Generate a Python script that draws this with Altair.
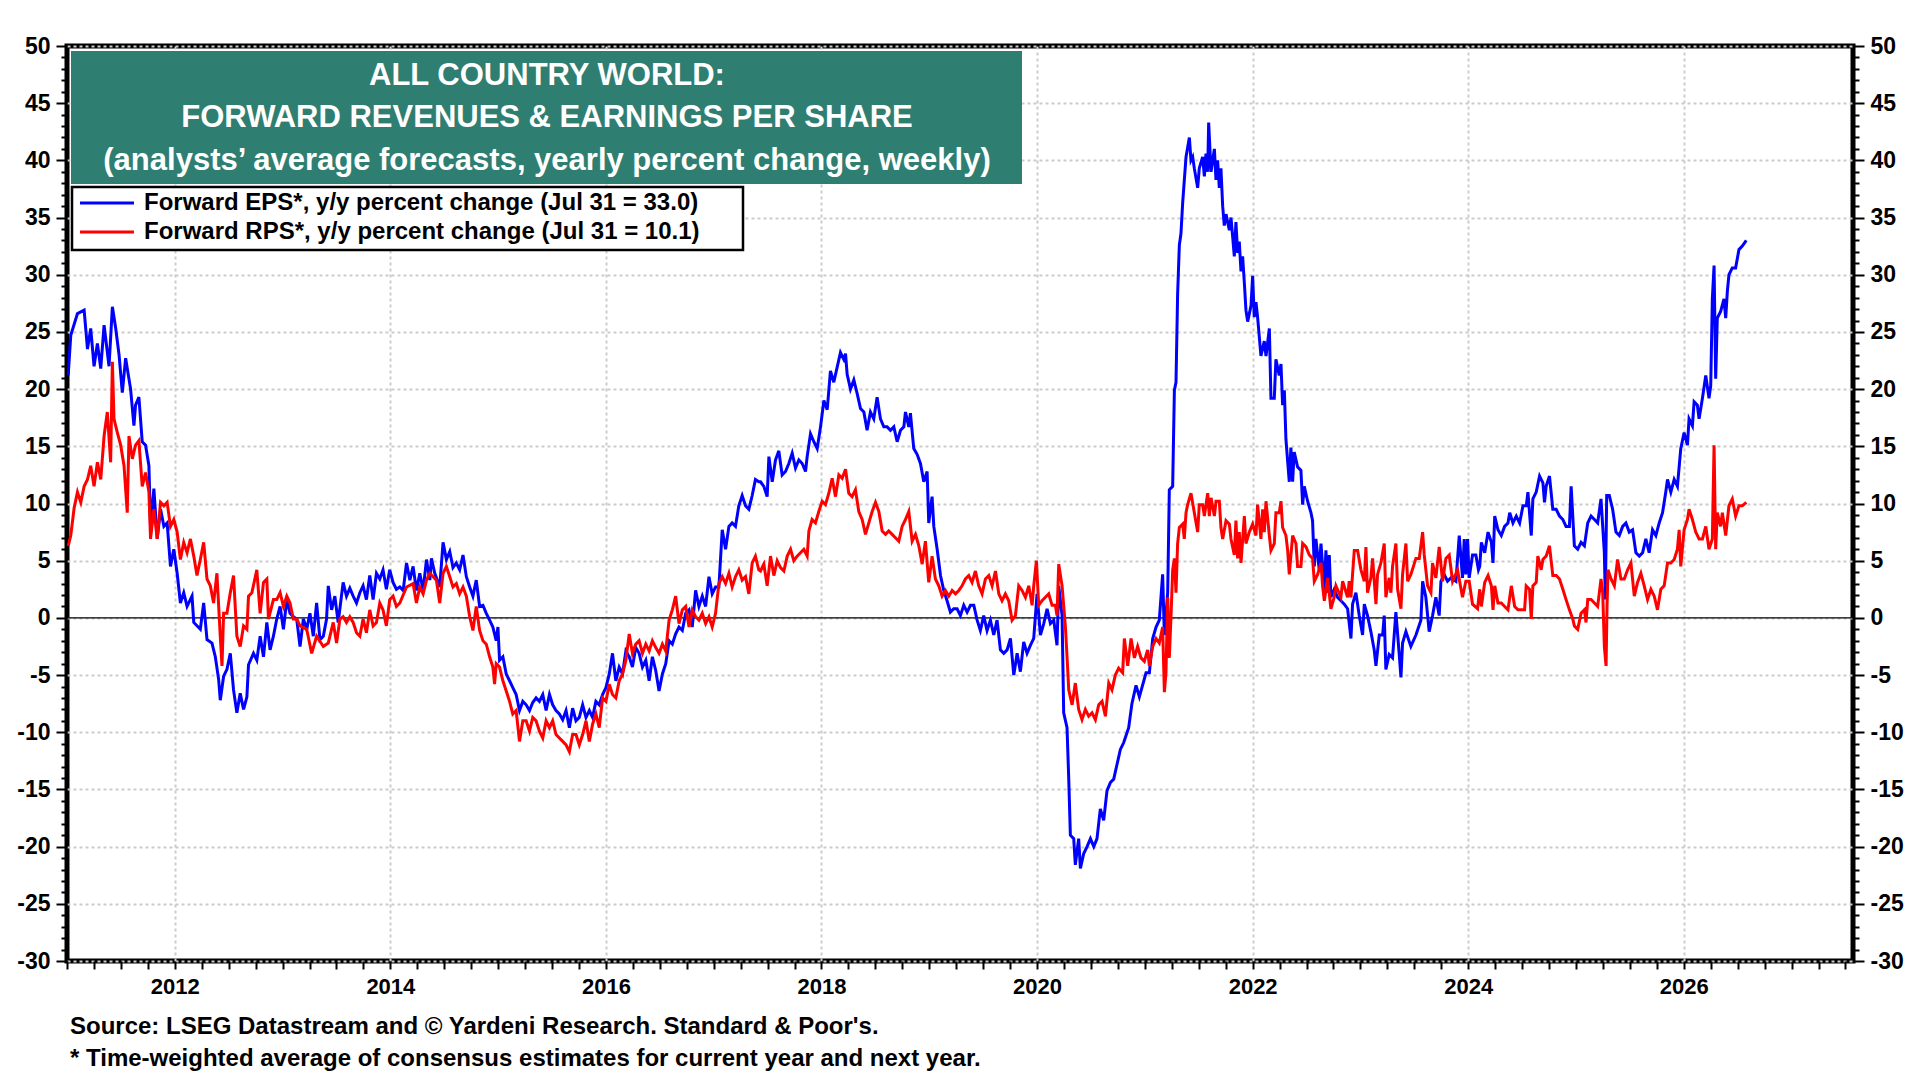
import altair as alt
import pandas as pd

# ---------------- text ----------------
TITLE_LINES = [
    "ALL COUNTRY WORLD:",
    "FORWARD REVENUES & EARNINGS PER SHARE",
    "(analysts\u2019 average forecasts, yearly percent change, weekly)",
]
LEGEND_EPS = "Forward EPS*, y/y percent change (Jul 31 = 33.0)"
LEGEND_RPS = "Forward RPS*, y/y percent change (Jul 31 = 10.1)"
FOOT_1 = "Source: LSEG Datastream and \u00a9 Yardeni Research. Standard & Poor's."
FOOT_2 = "* Time-weighted average of consensus estimates for current year and next year."

# ---------------- data (decimal year, % y/y) ----------------
EPS_2011_2014 = [
    (2011.011, 21.2), (2011.035, 24.7), (2011.097, 26.6), (2011.159, 26.9), (2011.190, 23.5),
    (2011.220, 25.3), (2011.251, 22.0), (2011.282, 24.0), (2011.313, 21.8), (2011.344, 25.6),
    (2011.390, 22.0), (2011.421, 27.2), (2011.452, 25.3), (2011.483, 23.0), (2011.513, 19.7),
    (2011.544, 22.7), (2011.590, 20.0), (2011.621, 16.8), (2011.636, 18.6), (2011.667, 19.3),
    (2011.698, 15.4), (2011.729, 15.1), (2011.760, 13.3), (2011.775, 8.0), (2011.806, 11.3),
    (2011.837, 6.9), (2011.868, 9.5), (2011.899, 8.0), (2011.929, 8.3), (2011.960, 4.5),
    (2011.991, 6.0), (2012.022, 3.9), (2012.052, 1.3), (2012.083, 2.2), (2012.114, 1.0),
    (2012.160, 1.9), (2012.176, -0.4), (2012.237, -1.0), (2012.268, 1.3), (2012.299, -1.9),
    (2012.345, -2.2), (2012.376, -3.4), (2012.407, -5.4), (2012.422, -7.2), (2012.453, -5.1),
    (2012.484, -4.5), (2012.515, -3.1), (2012.545, -6.3), (2012.576, -8.3), (2012.607, -6.6),
    (2012.638, -8.0), (2012.669, -6.9), (2012.684, -4.1), (2012.730, -3.1), (2012.761, -3.7),
    (2012.792, -1.6), (2012.823, -3.4), (2012.854, -0.4), (2012.884, -2.8), (2012.915, -1.6),
    (2012.946, -0.1), (2012.977, 1.0), (2013.008, -1.0), (2013.039, 1.6), (2013.069, 0.4),
    (2013.100, 0.1), (2013.131, -0.1), (2013.162, -2.5), (2013.193, -0.1), (2013.224, -1.0),
    (2013.254, 0.4), (2013.285, -1.6), (2013.316, 1.3), (2013.347, -1.9), (2013.378, -1.6),
    (2013.408, -0.1), (2013.424, 2.8), (2013.455, 0.7), (2013.485, 1.9), (2013.516, -0.4),
    (2013.562, 3.1), (2013.593, 1.9), (2013.624, 2.6), (2013.655, 1.9), (2013.686, 1.3),
    (2013.717, 2.2), (2013.747, 2.8), (2013.778, 1.6), (2013.809, 3.7), (2013.840, 1.6),
    (2013.871, 3.9), (2013.902, 3.4), (2013.932, 4.2), (2013.963, 2.5), (2013.994, 4.2),
    (2014.025, 3.1), (2014.056, 2.5),
]
EPS_2014_2017 = [
    (2014.088, 2.7), (2014.119, 2.4), (2014.150, 4.8), (2014.181, 3.3), (2014.211, 4.5),
    (2014.242, 2.4), (2014.273, 3.9), (2014.304, 2.4), (2014.335, 5.1), (2014.366, 3.3),
    (2014.381, 5.2), (2014.412, 3.9), (2014.458, 2.7), (2014.489, 6.6), (2014.520, 5.1),
    (2014.551, 5.8), (2014.581, 4.4), (2014.612, 4.8), (2014.643, 4.2), (2014.674, 5.5),
    (2014.705, 3.6), (2014.736, 2.7), (2014.766, 1.9), (2014.797, 3.3), (2014.828, 1.0),
    (2014.859, 1.1), (2014.890, 0.4), (2014.921, -0.2), (2014.951, -0.8), (2014.982, -2.0),
    (2014.998, -0.8), (2015.013, -3.7), (2015.044, -3.4), (2015.075, -4.9), (2015.106, -5.5),
    (2015.136, -6.1), (2015.167, -6.7), (2015.198, -8.1), (2015.229, -7.3), (2015.260, -7.6),
    (2015.291, -8.1), (2015.321, -7.4), (2015.352, -7.0), (2015.383, -7.3), (2015.414, -6.7),
    (2015.445, -8.1), (2015.476, -6.7), (2015.506, -7.6), (2015.537, -8.1), (2015.568, -8.4),
    (2015.599, -8.9), (2015.630, -8.1), (2015.661, -9.6), (2015.691, -7.9), (2015.722, -9.0),
    (2015.753, -8.7), (2015.784, -7.6), (2015.815, -8.7), (2015.846, -8.1), (2015.876, -8.7),
    (2015.907, -7.3), (2015.938, -7.6), (2015.969, -6.7), (2016.000, -6.1), (2016.031, -4.9),
    (2016.061, -3.1), (2016.092, -5.5), (2016.123, -4.3), (2016.154, -4.9), (2016.185, -2.9),
    (2016.216, -3.4), (2016.246, -4.3), (2016.277, -2.6), (2016.308, -3.1), (2016.339, -4.3),
    (2016.370, -3.7), (2016.401, -5.5), (2016.431, -3.4), (2016.462, -4.6), (2016.493, -6.4),
    (2016.524, -4.9), (2016.555, -4.0), (2016.586, -2.0), (2016.616, -2.3), (2016.647, -1.4),
    (2016.678, -0.8), (2016.709, -1.1), (2016.740, 0.4), (2016.771, 0.7), (2016.801, -0.8),
    (2016.832, 2.4), (2016.863, 1.0), (2016.894, 1.9), (2016.925, 1.0), (2016.956, 3.6),
    (2016.986, 2.1), (2017.017, 2.7), (2017.048, 2.7), (2017.079, 7.7), (2017.110, 6.0),
    (2017.141, 8.0), (2017.171, 8.3), (2017.202, 8.0), (2017.233, 9.8), (2017.264, 10.7),
    (2017.295, 9.8), (2017.326, 9.5), (2017.357, 10.7), (2017.387, 12.1), (2017.418, 11.9),
]
EPS_2017_2020 = [
    (2017.434, 11.9), (2017.465, 11.5), (2017.496, 10.6), (2017.512, 14.1), (2017.543, 11.9),
    (2017.573, 13.8), (2017.604, 14.6), (2017.635, 12.5), (2017.666, 12.8), (2017.697, 13.5),
    (2017.728, 14.4), (2017.759, 13.1), (2017.790, 13.8), (2017.821, 13.5), (2017.852, 12.8),
    (2017.867, 14.1), (2017.898, 16.1), (2017.929, 15.4), (2017.960, 14.8), (2017.991, 16.7),
    (2018.022, 19.0), (2018.053, 18.2), (2018.083, 21.6), (2018.114, 20.6), (2018.145, 21.9),
    (2018.176, 23.2), (2018.207, 22.6), (2018.223, 23.1), (2018.238, 21.3), (2018.269, 20.0),
    (2018.300, 20.8), (2018.331, 19.6), (2018.362, 18.3), (2018.393, 18.0), (2018.423, 16.4),
    (2018.454, 18.0), (2018.485, 17.4), (2018.516, 19.3), (2018.547, 17.4), (2018.578, 16.7),
    (2018.609, 16.7), (2018.640, 16.4), (2018.671, 16.7), (2018.702, 15.4), (2018.733, 16.4),
    (2018.764, 16.7), (2018.779, 18.0), (2018.810, 16.7), (2018.825, 17.9), (2018.856, 14.8),
    (2018.887, 14.3), (2018.918, 13.5), (2018.949, 11.9), (2018.980, 12.8), (2018.995, 8.3),
    (2019.026, 10.6), (2019.042, 8.0), (2019.073, 6.0), (2019.104, 3.7), (2019.134, 2.4),
    (2019.165, 1.5), (2019.196, 0.5), (2019.227, 0.8), (2019.258, 0.8), (2019.289, 0.2),
    (2019.320, 1.1), (2019.351, 0.5), (2019.382, 1.1), (2019.413, 1.1), (2019.444, -0.2),
    (2019.474, -1.1), (2019.505, 0.2), (2019.536, -1.1), (2019.567, -0.2), (2019.598, -1.5),
    (2019.629, -0.2), (2019.660, -2.8), (2019.691, -3.1), (2019.722, -2.8), (2019.753, -1.8),
    (2019.784, -5.0), (2019.815, -3.1), (2019.845, -4.7), (2019.876, -2.1), (2019.907, -3.1),
    (2019.938, -2.4), (2019.969, -1.8), (2020.000, 2.1), (2020.031, -1.5), (2020.062, -0.5),
    (2020.093, 0.8), (2020.124, -0.5), (2020.155, -0.2), (2020.185, -2.4), (2020.201, 2.8),
    (2020.232, 0.2), (2020.247, -8.3), (2020.278, -9.6), (2020.294, -14.1), (2020.309, -19.0),
    (2020.340, -19.3), (2020.355, -21.6), (2020.386, -19.3), (2020.402, -21.9), (2020.433, -20.6),
    (2020.464, -20.0), (2020.495, -19.3), (2020.526, -20.0), (2020.556, -19.3), (2020.587, -16.7),
    (2020.618, -17.7), (2020.649, -15.1), (2020.680, -14.4), (2020.711, -14.1), (2020.742, -12.8),
    (2020.773, -11.5), (2020.804, -10.9), (2020.850, -9.6), (2020.880, -7.5),
]
EPS_2020_2024 = [
    (2020.918, -5.9), (2020.949, -6.9), (2021.011, -4.8), (2021.042, -4.8), (2021.073, -1.8),
    (2021.104, -0.8), (2021.134, -0.2), (2021.165, 3.8), (2021.181, -1.5), (2021.212, 2.2),
    (2021.227, 11.2), (2021.258, 11.5), (2021.274, 19.9), (2021.289, 20.6), (2021.304, 28.3),
    (2021.320, 32.6), (2021.335, 33.6), (2021.351, 36.3), (2021.382, 40.3), (2021.413, 42.0),
    (2021.428, 40.0), (2021.444, 40.3), (2021.459, 39.3), (2021.490, 37.6), (2021.505, 39.3),
    (2021.536, 40.3), (2021.552, 38.6), (2021.567, 40.6), (2021.583, 39.0), (2021.592, 43.3),
    (2021.614, 39.0), (2021.645, 41.0), (2021.660, 38.3), (2021.675, 40.0), (2021.691, 37.6),
    (2021.706, 39.3), (2021.722, 36.0), (2021.737, 34.3), (2021.753, 35.3), (2021.784, 33.9),
    (2021.799, 35.0), (2021.815, 33.3), (2021.830, 31.6), (2021.845, 34.6), (2021.861, 31.9),
    (2021.876, 32.9), (2021.892, 30.3), (2021.907, 31.6), (2021.923, 29.3), (2021.938, 26.9),
    (2021.954, 25.9), (2021.985, 27.3), (2022.000, 29.9), (2022.015, 26.3), (2022.031, 27.6),
    (2022.046, 26.3), (2022.077, 22.9), (2022.108, 24.2), (2022.124, 22.9), (2022.155, 25.3),
    (2022.170, 19.2), (2022.201, 19.2), (2022.216, 22.6), (2022.247, 21.2), (2022.263, 22.2),
    (2022.278, 18.6), (2022.294, 19.9), (2022.309, 15.6), (2022.340, 11.9), (2022.355, 14.9),
    (2022.371, 11.9), (2022.386, 14.5), (2022.417, 13.2), (2022.448, 12.9), (2022.464, 9.9),
    (2022.479, 11.5), (2022.510, 10.2), (2022.541, 9.2), (2022.556, 8.5), (2022.572, 4.5),
    (2022.587, 6.9), (2022.618, 4.2), (2022.634, 6.5), (2022.665, 2.5), (2022.680, 5.9),
    (2022.696, 2.2), (2022.711, 5.5), (2022.726, 1.8), (2022.757, 2.5), (2022.788, 1.8),
    (2022.819, 1.5), (2022.850, 1.2), (2022.881, 0.8), (2022.912, -1.8), (2022.927, 1.2),
    (2022.958, 2.2), (2022.989, 0.2), (2023.020, -1.5), (2023.036, 1.2), (2023.066, 0.2),
    (2023.097, -1.2), (2023.128, -2.8), (2023.144, -4.2), (2023.175, -1.5), (2023.206, -1.5),
    (2023.221, 0.2), (2023.236, -4.5), (2023.267, -3.2), (2023.298, -3.5), (2023.329, 0.5),
    (2023.360, -3.2), (2023.376, -5.2), (2023.391, -2.2), (2023.422, -1.2), (2023.468, -2.5),
    (2023.515, -1.5), (2023.561, -0.2), (2023.577, 3.2), (2023.607, 1.8), (2023.638, -1.2),
    (2023.669, 0.2), (2023.700, 1.8), (2023.731, 0.2), (2023.747, 3.2), (2023.777, 3.8),
    (2023.808, 3.2), (2023.839, 3.5), (2023.886, 3.2), (2023.917, 7.2), (2023.947, 3.5),
    (2023.963, 6.9), (2023.978, 3.8), (2023.994, 6.9), (2024.009, 3.5), (2024.040, 5.5),
    (2024.071, 5.5), (2024.095, 4.2),
]
EPS_2024_2026 = [
    (2024.107, 4.5), (2024.122, 6.6), (2024.153, 5.7), (2024.184, 7.5), (2024.215, 6.6),
    (2024.230, 4.8), (2024.246, 8.9), (2024.276, 7.7), (2024.307, 7.2), (2024.338, 8.0),
    (2024.369, 8.3), (2024.385, 9.2), (2024.415, 8.3), (2024.446, 8.9), (2024.477, 8.3),
    (2024.508, 9.8), (2024.539, 9.8), (2024.554, 11.0), (2024.585, 7.2), (2024.600, 10.4),
    (2024.631, 11.0), (2024.662, 12.4), (2024.693, 11.8), (2024.708, 10.1), (2024.723, 11.5),
    (2024.754, 12.4), (2024.785, 9.5), (2024.816, 9.5), (2024.847, 8.9), (2024.878, 8.6),
    (2024.908, 8.0), (2024.939, 8.0), (2024.955, 11.5), (2024.985, 6.3), (2025.016, 6.0),
    (2025.047, 6.6), (2025.078, 6.3), (2025.109, 8.3), (2025.140, 8.9), (2025.171, 8.6),
    (2025.201, 8.3), (2025.232, 10.4), (2025.263, 5.7), (2025.272, 1.6), (2025.285, 10.7),
    (2025.309, 10.7), (2025.340, 9.5), (2025.371, 7.5), (2025.402, 7.2), (2025.433, 8.0),
    (2025.463, 8.3), (2025.494, 7.5), (2025.525, 7.7), (2025.556, 5.7), (2025.587, 5.4),
    (2025.618, 5.7), (2025.648, 6.9), (2025.679, 5.7), (2025.710, 7.7), (2025.741, 7.2),
    (2025.772, 8.3), (2025.803, 9.2), (2025.833, 11.0), (2025.849, 12.1), (2025.880, 11.0),
    (2025.911, 12.1), (2025.941, 11.5), (2025.972, 14.8), (2026.003, 16.2), (2026.034, 15.1),
    (2026.049, 17.4), (2026.080, 16.8), (2026.096, 18.9), (2026.126, 18.6), (2026.142, 17.4),
    (2026.173, 19.2), (2026.204, 21.2), (2026.234, 19.2), (2026.250, 20.3), (2026.265, 27.9),
    (2026.281, 30.8), (2026.296, 20.9), (2026.311, 26.2), (2026.342, 26.8), (2026.373, 27.9),
    (2026.389, 26.2), (2026.404, 28.5), (2026.419, 30.0), (2026.450, 30.6), (2026.481, 30.6),
    (2026.512, 32.2), (2026.543, 32.5), (2026.580, 33.0),
]

RPS_2011_2014 = [
    (2011.011, 6.3), (2011.035, 7.2), (2011.066, 9.6), (2011.097, 11.0), (2011.128, 10.1),
    (2011.159, 11.5), (2011.190, 12.1), (2011.220, 13.3), (2011.251, 11.5), (2011.282, 13.6),
    (2011.313, 12.1), (2011.344, 15.9), (2011.374, 18.0), (2011.405, 13.6), (2011.421, 22.4),
    (2011.436, 17.4), (2011.467, 16.2), (2011.498, 15.1), (2011.529, 13.3), (2011.559, 9.2),
    (2011.575, 15.9), (2011.606, 13.9), (2011.636, 15.1), (2011.667, 15.5), (2011.698, 11.5),
    (2011.729, 12.7), (2011.760, 11.0), (2011.775, 6.9), (2011.806, 9.5), (2011.837, 6.9),
    (2011.868, 10.1), (2011.899, 9.8), (2011.929, 10.1), (2011.960, 8.0), (2011.991, 8.6),
    (2012.022, 7.5), (2012.052, 5.1), (2012.083, 6.6), (2012.114, 5.7), (2012.145, 6.9),
    (2012.176, 5.4), (2012.206, 3.7), (2012.237, 5.1), (2012.268, 6.6), (2012.299, 3.4),
    (2012.330, 2.8), (2012.360, 1.3), (2012.391, 3.9), (2012.422, -1.6), (2012.438, -4.2),
    (2012.453, 0.4), (2012.484, 0.4), (2012.515, 2.2), (2012.545, 3.7), (2012.576, -1.6),
    (2012.607, -2.5), (2012.638, -0.7), (2012.669, -1.0), (2012.684, 1.9), (2012.715, 2.2),
    (2012.761, 4.2), (2012.792, 0.4), (2012.823, 3.1), (2012.854, 3.4), (2012.869, -0.1),
    (2012.915, 1.6), (2012.946, 1.6), (2012.977, 2.2), (2013.008, 1.0), (2013.039, 1.9),
    (2013.069, 1.3), (2013.100, -0.1), (2013.131, -0.1), (2013.162, -0.7), (2013.224, -1.0),
    (2013.270, -3.1), (2013.316, -1.6), (2013.378, -2.5), (2013.424, -2.2), (2013.470, -0.4),
    (2013.501, -2.2), (2013.532, -0.1), (2013.562, 0.1), (2013.593, -0.4), (2013.624, 0.1),
    (2013.655, -0.4), (2013.686, -1.3), (2013.717, -1.6), (2013.747, -0.1), (2013.778, -1.3),
    (2013.809, 0.7), (2013.840, -0.7), (2013.871, -0.4), (2013.902, 1.3), (2013.932, 0.7),
    (2013.963, -0.7), (2013.994, 1.6), (2014.025, 1.9), (2014.056, 1.0),
]
RPS_2014_2017 = [
    (2014.088, 1.3), (2014.150, 2.7), (2014.211, 3.0), (2014.242, 1.3), (2014.273, 2.7),
    (2014.304, 2.1), (2014.335, 3.3), (2014.366, 3.9), (2014.427, 3.3), (2014.458, 1.3),
    (2014.489, 3.9), (2014.520, 4.5), (2014.551, 3.6), (2014.581, 2.7), (2014.612, 3.0),
    (2014.643, 2.1), (2014.674, 2.7), (2014.705, 1.9), (2014.736, 0.1), (2014.766, -1.1),
    (2014.797, 1.0), (2014.828, -1.1), (2014.859, -2.0), (2014.890, -2.3), (2014.921, -3.4),
    (2014.951, -4.3), (2014.967, -5.8), (2014.982, -4.0), (2015.013, -4.3), (2015.044, -5.5),
    (2015.075, -6.4), (2015.106, -7.3), (2015.136, -8.4), (2015.167, -8.1), (2015.198, -10.8),
    (2015.229, -9.0), (2015.260, -9.0), (2015.291, -9.9), (2015.321, -8.7), (2015.352, -9.0),
    (2015.383, -9.9), (2015.414, -10.5), (2015.445, -9.0), (2015.476, -9.6), (2015.506, -9.0),
    (2015.537, -10.2), (2015.568, -10.5), (2015.599, -10.8), (2015.630, -11.1), (2015.661, -11.7),
    (2015.691, -10.2), (2015.722, -10.2), (2015.753, -11.1), (2015.784, -10.2), (2015.815, -9.0),
    (2015.846, -10.8), (2015.876, -9.3), (2015.907, -8.4), (2015.938, -9.6), (2015.969, -7.0),
    (2016.000, -7.3), (2016.031, -5.8), (2016.061, -6.7), (2016.092, -7.0), (2016.123, -5.5),
    (2016.154, -4.9), (2016.185, -3.7), (2016.216, -1.4), (2016.246, -3.1), (2016.277, -2.3),
    (2016.308, -2.0), (2016.339, -3.1), (2016.370, -2.3), (2016.401, -2.9), (2016.431, -2.0),
    (2016.462, -2.6), (2016.493, -3.1), (2016.524, -2.3), (2016.555, -2.9), (2016.586, -0.2),
    (2016.616, 0.7), (2016.647, 1.9), (2016.678, -0.5), (2016.709, 0.7), (2016.740, 1.0),
    (2016.771, -0.8), (2016.801, 0.7), (2016.832, 0.1), (2016.863, -0.2), (2016.894, 0.4),
    (2016.925, -0.5), (2016.956, 0.1), (2016.986, -0.8), (2017.017, 0.4), (2017.048, 3.0),
    (2017.079, 3.6), (2017.110, 3.0), (2017.141, 3.9), (2017.171, 2.7), (2017.202, 3.6),
    (2017.233, 4.2), (2017.264, 3.3), (2017.295, 3.6), (2017.326, 2.1), (2017.357, 4.8),
    (2017.387, 5.4), (2017.418, 4.2),
]
RPS_2017_2020 = [
    (2017.434, 4.1), (2017.465, 4.7), (2017.496, 2.8), (2017.527, 5.4), (2017.558, 3.7),
    (2017.589, 5.0), (2017.620, 4.4), (2017.651, 4.1), (2017.682, 5.4), (2017.713, 6.0),
    (2017.743, 5.0), (2017.774, 5.4), (2017.805, 5.7), (2017.836, 6.0), (2017.867, 5.4),
    (2017.883, 7.6), (2017.913, 8.6), (2017.944, 8.3), (2017.975, 9.3), (2018.006, 10.2),
    (2018.037, 9.9), (2018.068, 10.9), (2018.099, 12.2), (2018.130, 10.6), (2018.161, 12.5),
    (2018.192, 12.2), (2018.223, 13.0), (2018.253, 10.9), (2018.284, 10.6), (2018.315, 11.2),
    (2018.346, 9.3), (2018.377, 8.6), (2018.408, 7.3), (2018.439, 8.3), (2018.470, 9.3),
    (2018.501, 10.1), (2018.532, 9.3), (2018.563, 7.6), (2018.594, 7.3), (2018.624, 7.6),
    (2018.655, 7.3), (2018.686, 7.0), (2018.717, 6.7), (2018.748, 8.0), (2018.779, 8.6),
    (2018.810, 9.3), (2018.841, 6.7), (2018.872, 7.3), (2018.903, 6.3), (2018.934, 4.7),
    (2018.964, 6.7), (2018.995, 3.1), (2019.026, 5.4), (2019.057, 3.4), (2019.088, 2.8),
    (2019.119, 1.9), (2019.150, 2.4), (2019.181, 1.9), (2019.212, 2.4), (2019.243, 2.1),
    (2019.274, 2.4), (2019.304, 2.8), (2019.335, 3.4), (2019.366, 3.7), (2019.397, 3.1),
    (2019.428, 4.1), (2019.459, 2.8), (2019.490, 2.1), (2019.521, 3.4), (2019.552, 3.7),
    (2019.583, 2.8), (2019.614, 4.1), (2019.645, 2.1), (2019.675, 1.5), (2019.706, 2.1),
    (2019.737, 1.5), (2019.768, -0.2), (2019.799, 0.2), (2019.830, 2.8), (2019.861, 2.4),
    (2019.892, 1.8), (2019.923, 2.8), (2019.954, 1.1), (2019.969, 2.8), (2019.994, 5.0),
    (2020.015, 1.1), (2020.046, 1.5), (2020.077, 1.8), (2020.108, 2.1), (2020.139, 1.1),
    (2020.170, 1.1), (2020.185, 0.2), (2020.201, 4.7), (2020.232, 2.8), (2020.263, -0.8),
    (2020.278, -3.4), (2020.294, -6.3), (2020.325, -7.6), (2020.355, -5.7), (2020.386, -8.0),
    (2020.417, -8.9), (2020.448, -8.0), (2020.479, -8.6), (2020.510, -8.3), (2020.541, -8.9),
    (2020.572, -7.6), (2020.603, -7.3), (2020.634, -8.6), (2020.665, -5.7), (2020.695, -6.3),
    (2020.726, -5.0), (2020.757, -4.4),
]
RPS_2020_2024 = [
    (2020.794, -4.8), (2020.810, -1.8), (2020.841, -4.2), (2020.872, -1.8), (2020.903, -3.5),
    (2020.933, -2.5), (2020.964, -3.5), (2020.995, -3.8), (2021.026, -2.8), (2021.042, -4.2),
    (2021.073, -2.5), (2021.104, -1.8), (2021.134, -2.2), (2021.165, -0.8), (2021.181, -6.5),
    (2021.196, -4.8), (2021.212, 1.8), (2021.227, -3.5), (2021.243, 0.2), (2021.258, 4.2),
    (2021.274, 5.2), (2021.289, 2.2), (2021.304, 6.5), (2021.320, 7.9), (2021.351, 8.2),
    (2021.366, 6.9), (2021.382, 9.2), (2021.397, 9.9), (2021.428, 10.9), (2021.459, 9.2),
    (2021.490, 7.5), (2021.505, 9.9), (2021.536, 9.9), (2021.552, 8.9), (2021.583, 10.9),
    (2021.598, 8.9), (2021.614, 10.5), (2021.645, 8.9), (2021.660, 10.2), (2021.691, 10.2),
    (2021.706, 7.9), (2021.722, 6.9), (2021.753, 8.5), (2021.784, 8.2), (2021.799, 6.9),
    (2021.830, 5.5), (2021.845, 8.5), (2021.861, 5.2), (2021.876, 7.5), (2021.892, 4.8),
    (2021.923, 8.9), (2021.938, 6.5), (2021.969, 7.5), (2022.000, 8.2), (2022.031, 7.2),
    (2022.046, 9.9), (2022.077, 6.9), (2022.093, 9.5), (2022.108, 7.5), (2022.124, 10.2),
    (2022.155, 7.2), (2022.170, 5.9), (2022.201, 6.5), (2022.216, 9.2), (2022.247, 9.2),
    (2022.263, 10.2), (2022.278, 7.9), (2022.309, 7.2), (2022.325, 5.9), (2022.340, 3.8),
    (2022.371, 7.2), (2022.402, 6.5), (2022.417, 4.5), (2022.448, 4.5), (2022.464, 6.5),
    (2022.495, 6.2), (2022.526, 5.5), (2022.556, 5.2), (2022.572, 3.2), (2022.603, 3.8),
    (2022.634, 4.8), (2022.649, 2.8), (2022.665, 1.5), (2022.696, 3.5), (2022.726, 0.8),
    (2022.757, 1.8), (2022.773, 2.8), (2022.819, 1.8), (2022.835, 3.2), (2022.881, 1.8),
    (2022.896, 3.2), (2022.912, 1.8), (2022.927, 3.8), (2022.943, 5.9), (2022.974, 5.9),
    (2023.005, 4.2), (2023.036, 3.2), (2023.051, 6.2), (2023.066, 2.2), (2023.097, 3.5),
    (2023.113, 5.2), (2023.144, 1.2), (2023.159, 3.8), (2023.190, 4.8), (2023.221, 6.5),
    (2023.236, 1.8), (2023.267, 3.5), (2023.283, 2.2), (2023.298, 4.5), (2023.329, 6.5),
    (2023.345, 2.5), (2023.376, 0.8), (2023.391, 3.8), (2023.422, 6.5), (2023.438, 3.2),
    (2023.468, 3.8), (2023.515, 5.2), (2023.546, 5.2), (2023.577, 7.5), (2023.592, 5.5),
    (2023.623, 2.8), (2023.654, 2.2), (2023.669, 4.8), (2023.700, 3.5), (2023.731, 6.2),
    (2023.762, 3.2), (2023.793, 5.2), (2023.824, 5.5), (2023.855, 3.2), (2023.901, 4.2),
    (2023.947, 1.8), (2023.978, 3.2), (2024.009, 3.2), (2024.040, 1.2), (2024.087, 0.8),
]
RPS_2024_2026 = [
    (2024.107, 2.5), (2024.122, 1.0), (2024.153, 3.1), (2024.184, 3.7), (2024.215, 2.8),
    (2024.230, 0.7), (2024.246, 2.8), (2024.276, 1.3), (2024.307, 1.3), (2024.338, 1.0),
    (2024.369, 0.7), (2024.400, 2.8), (2024.431, 1.0), (2024.462, 0.7), (2024.492, 0.7),
    (2024.523, 0.7), (2024.538, 2.8), (2024.569, 2.5), (2024.585, -0.1), (2024.600, 2.8),
    (2024.631, 3.1), (2024.646, 5.4), (2024.677, 4.2), (2024.693, 5.1), (2024.723, 5.4),
    (2024.754, 6.3), (2024.785, 3.7), (2024.816, 3.7), (2024.847, 3.4), (2024.878, 2.5),
    (2024.908, 1.6), (2024.939, 0.7), (2024.970, -0.1), (2024.985, -0.7), (2025.016, -1.0),
    (2025.047, 0.4), (2025.078, 0.7), (2025.093, -0.4), (2025.109, 1.6), (2025.140, 1.6),
    (2025.171, 1.3), (2025.201, 1.0), (2025.232, 3.4), (2025.248, 2.2), (2025.263, -2.5),
    (2025.279, -4.2), (2025.288, 1.0), (2025.297, 4.2), (2025.325, 3.4), (2025.356, 2.8),
    (2025.386, 5.1), (2025.417, 3.4), (2025.448, 3.4), (2025.479, 4.2), (2025.510, 4.8),
    (2025.541, 1.9), (2025.571, 3.1), (2025.602, 3.9), (2025.633, 2.8), (2025.664, 1.6),
    (2025.695, 2.5), (2025.726, 1.9), (2025.756, 0.7), (2025.787, 2.5), (2025.818, 2.8),
    (2025.849, 4.8), (2025.880, 4.8), (2025.911, 5.1), (2025.941, 6.0), (2025.957, 7.7),
    (2025.972, 4.5), (2026.003, 7.7), (2026.034, 8.6), (2026.049, 9.5), (2026.080, 8.6),
    (2026.111, 7.5), (2026.142, 6.9), (2026.173, 6.9), (2026.204, 8.0), (2026.234, 6.0),
    (2026.265, 6.9), (2026.281, 15.1), (2026.296, 6.0), (2026.311, 9.2), (2026.342, 8.0),
    (2026.358, 9.2), (2026.389, 7.2), (2026.419, 9.8), (2026.450, 10.4), (2026.481, 8.9),
    (2026.512, 9.8), (2026.543, 9.8), (2026.580, 10.1),
]


def to_frame(*segments):
    rows = [pair for seg in segments for pair in seg]
    return pd.DataFrame(rows, columns=["year", "pct"])


eps_df = to_frame(EPS_2011_2014, EPS_2014_2017, EPS_2017_2020, EPS_2020_2024, EPS_2024_2026)
rps_df = to_frame(RPS_2011_2014, RPS_2014_2017, RPS_2017_2020, RPS_2020_2024, RPS_2024_2026)

# ---------------- style ----------------
FONT = "Liberation Sans"
TEAL = "#2e7e71"
BLUE = "#0000ff"
RED = "#ff0000"
GRID = "#cccccc"
X_DOMAIN = [2011.0, 2027.57]
Y_DOMAIN = [-30, 50]
X_TICKS = [2011 + 0.25 * i for i in range(67)]
Y_TICKS = list(range(-30, 51))

x_scale = alt.Scale(domain=X_DOMAIN, nice=False, zero=False)
y_scale = alt.Scale(domain=Y_DOMAIN, nice=False, zero=False)

axis_common = dict(
    domain=False, tickColor="black", tickWidth=2, labelFont=FONT,
    labelFontWeight="bold", labelColor="black", labelOverlap=False, labelFlush=False,
    labelBound=False, title=None,
)

x_axis = alt.Axis(
    values=X_TICKS,
    labelExpr="datum.value % 2 == 0 ? toString(datum.value) : ''",
    grid=True,
    gridOpacity={"condition": {"test": "datum.value % 2 == 0", "value": 1}, "value": 0},
    gridColor=GRID, gridDash=[3, 3], gridWidth=2,
    tickSize=8, labelPadding=7, labelFontSize=22, **axis_common,
)

major_tick = {"condition": {"test": "datum.value % 5 == 0", "value": 11}, "value": 6}
y_label_expr = "datum.value % 5 == 0 ? toString(datum.value) : ''"

y_axis_left = alt.Axis(
    orient="left", values=Y_TICKS, labelExpr=y_label_expr, tickSize=major_tick,
    grid=True,
    gridOpacity={"condition": {"test": "datum.value % 5 == 0", "value": 1}, "value": 0},
    gridColor=GRID, gridDash=[3, 3], gridWidth=2, labelPadding=6, labelFontSize=23,
    **axis_common,
)
y_axis_right = alt.Axis(
    orient="right", values=Y_TICKS, labelExpr=y_label_expr, tickSize=major_tick,
    grid=False, labelPadding=6, labelFontSize=23, **axis_common,
)

eps_line = alt.Chart(eps_df).mark_line(color=BLUE, strokeWidth=3).encode(
    x=alt.X("year:Q", scale=x_scale, axis=x_axis),
    y=alt.Y("pct:Q", scale=y_scale, axis=y_axis_left),
)
rps_line = alt.Chart(rps_df).mark_line(color=RED, strokeWidth=3).encode(
    x=alt.X("year:Q", scale=x_scale, axis=x_axis),
    y=alt.Y("pct:Q", scale=y_scale, axis=y_axis_left),
)
lines = alt.layer(eps_line, rps_line)

one = alt.Data(values=[{}])

zero_line = alt.Chart(one).mark_rule(color="black", strokeWidth=1.2).encode(
    y=alt.YDatum(0, type="quantitative", scale=y_scale, axis=y_axis_right)
)

title_box = alt.Chart(one).mark_rect(color=TEAL).encode(
    x=alt.value(4), x2=alt.value(955), y=alt.value(5), y2=alt.value(138)
)
title_layers = [
    alt.Chart(one).mark_text(
        font=FONT, fontSize=31, fontWeight="bold", color="white", align="center", baseline="middle"
    ).encode(x=alt.value(480), y=alt.value(yy), text=alt.value(t))
    for t, yy in zip(TITLE_LINES, [30, 72, 115])
]

legend_box = alt.Chart(one).mark_rect(fill="white", stroke="black", strokeWidth=2.5).encode(
    x=alt.value(5), x2=alt.value(676), y=alt.value(141), y2=alt.value(204)
)
legend_layers = []
for col, label, yy in [(BLUE, LEGEND_EPS, 157), (RED, LEGEND_RPS, 186)]:
    legend_layers.append(
        alt.Chart(one).mark_rule(color=col, strokeWidth=3).encode(
            x=alt.value(13), x2=alt.value(67), y=alt.value(yy)
        )
    )
    legend_layers.append(
        alt.Chart(one).mark_text(
            font=FONT, fontSize=24, fontWeight="bold", color="black", align="left", baseline="middle"
        ).encode(x=alt.value(77), y=alt.value(yy), text=alt.value(label))
    )

foot_layers = [
    alt.Chart(one).mark_text(
        font=FONT, fontSize=24, fontWeight="bold", color="black", align="left", baseline="middle"
    ).encode(x=alt.value(3), y=alt.value(yy), text=alt.value(t))
    for t, yy in [(FOOT_1, 981), (FOOT_2, 1013)]
]

chart = (
    alt.layer(zero_line, lines, title_box, *title_layers, legend_box, *legend_layers, *foot_layers)
    .resolve_scale(y="independent")
    .properties(
        width=1786,
        height=915,
        padding={"left": 59, "top": 38, "right": 59, "bottom": 110},
        autosize=alt.AutoSizeParams(type="none"),
        background="white",
    )
    .configure_view(stroke="black", strokeWidth=5)
)

chart.save("out.html", embed_options={"renderer": "svg", "actions": False})
